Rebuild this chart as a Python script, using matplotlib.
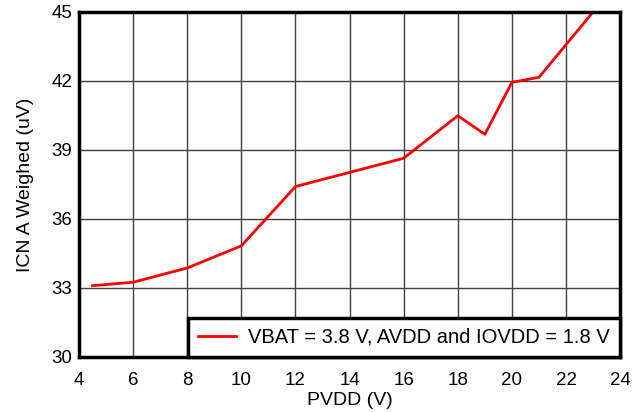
import matplotlib
matplotlib.use("Agg")
import matplotlib.pyplot as plt

# data
pvdd = [4.5, 6, 8, 10, 12, 16, 18, 19, 20, 21, 23]
icn = [33.1, 33.25, 33.87, 34.83, 37.41, 38.64, 40.49, 39.68, 41.94, 42.16, 45.0]
x_ticks = list(range(4, 25, 2))
y_ticks = [30, 33, 36, 39, 42, 45]
series_label = "VBAT = 3.8 V, AVDD and IOVDD = 1.8 V"

plt.rcParams["font.family"] = ["Liberation Sans", "DejaVu Sans"]

fig = plt.figure(figsize=(6.42, 4.12), dpi=100)
ax = fig.add_axes([0.123, 0.1335, 0.843, 0.8375])

ax.plot(pvdd, icn, color="#ff0000", linewidth=2, label=series_label, zorder=3)

ax.set_xlim(4, 24)
ax.set_ylim(30, 45)
ax.set_xticks(x_ticks)
ax.set_yticks(y_ticks)
ax.grid(True, color="#404040", linewidth=1)
ax.tick_params(length=0, labelsize=13.5)
ax.tick_params(axis="x", pad=11)
ax.tick_params(axis="y", pad=5)
for s in ax.spines.values():
    s.set_linewidth(2.5)
    s.set_color("black")
    s.set_zorder(4)

ax.set_xlabel("PVDD (V)", fontsize=14, labelpad=2)
ax.set_ylabel("ICN A Weighed (uV)", fontsize=14, labelpad=12)

leg = ax.legend(loc="lower right", borderaxespad=0, fancybox=False,
                edgecolor="black", framealpha=1, fontsize=14.5,
                handlelength=1.9, handletextpad=0.6, borderpad=0.5)
leg.get_frame().set_linewidth(2.5)
leg.set_zorder(5)

fig.savefig("out.png", dpi=100)
